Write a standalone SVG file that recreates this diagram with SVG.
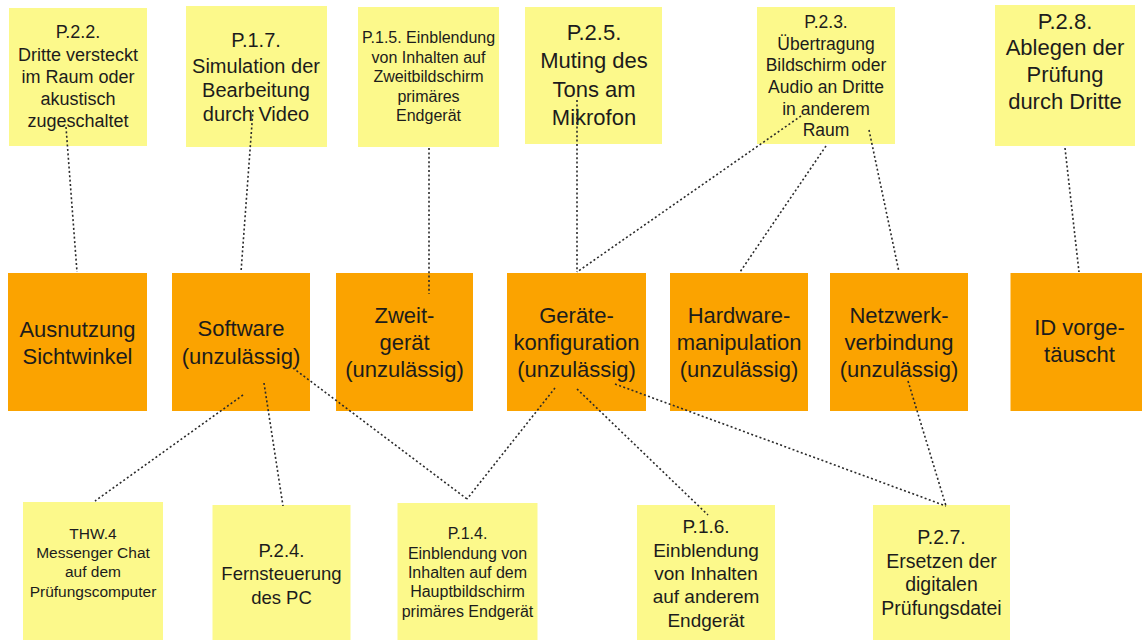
<svg xmlns="http://www.w3.org/2000/svg" width="1142" height="640" viewBox="0 0 1142 640">
<style>
.y{fill:#FCF98B}
.o{fill:#FBA300}
text{font-family:"Liberation Sans",Arial,sans-serif;fill:#1c1c1c;text-anchor:middle}
#connectors line{stroke:#2a2a2a;stroke-width:1.6;stroke-dasharray:2 2.4;fill:none}
</style>
<rect width="1142" height="640" fill="#ffffff"/>

<g id="p22"><rect class="y" x="9" y="8" width="138" height="138"/>
<text font-size="18"><tspan x="78" y="38">P.2.2.</tspan><tspan x="78" y="61">Dritte versteckt</tspan><tspan x="78" y="83">im Raum oder</tspan><tspan x="78" y="105">akustisch</tspan><tspan x="78" y="127">zugeschaltet</tspan></text></g>

<g id="p17"><rect class="y" x="186" y="6" width="141" height="141"/>
<text font-size="20"><tspan x="256" y="47">P.1.7.</tspan><tspan x="256" y="73">Simulation der</tspan><tspan x="256" y="97">Bearbeitung</tspan><tspan x="256" y="121">durch Video</tspan></text></g>

<g id="p15"><rect class="y" x="358" y="7" width="141" height="140"/>
<text font-size="16"><tspan x="428.5" y="43">P.1.5. Einblendung</tspan><tspan x="428.5" y="62.5">von Inhalten auf</tspan><tspan x="428.5" y="82">Zweitbildschirm</tspan><tspan x="428.5" y="101.5">primäres</tspan><tspan x="428.5" y="121">Endgerät</tspan></text></g>

<g id="p25"><rect class="y" x="525" y="7" width="137" height="137"/>
<text font-size="22"><tspan x="594" y="40">P.2.5.</tspan><tspan x="594" y="68">Muting des</tspan><tspan x="594" y="96.5">Tons am</tspan><tspan x="594" y="124.5">Mikrofon</tspan></text></g>

<g id="p23"><rect class="y" x="757" y="7" width="138" height="137"/>
<text font-size="17.5"><tspan x="826" y="28">P.2.3.</tspan><tspan x="826" y="49.5">Übertragung</tspan><tspan x="826" y="71">Bildschirm oder</tspan><tspan x="826" y="93">Audio an Dritte</tspan><tspan x="826" y="114.5">in anderem</tspan><tspan x="826" y="136">Raum</tspan></text></g>

<g id="p28"><rect class="y" x="995" y="5" width="140" height="141"/>
<text font-size="22"><tspan x="1065" y="28.5">P.2.8.</tspan><tspan x="1065" y="55">Ablegen der</tspan><tspan x="1065" y="82">Prüfung</tspan><tspan x="1065" y="109">durch Dritte</tspan></text></g>

<g id="ausnutzung"><rect class="o" x="8" y="273" width="139" height="138"/>
<text font-size="22"><tspan x="77.5" y="336.5">Ausnutzung</tspan><tspan x="77.5" y="363.5">Sichtwinkel</tspan></text></g>

<g id="software"><rect class="o" x="172" y="273" width="138" height="138"/>
<text font-size="22"><tspan x="241" y="336">Software</tspan><tspan x="241" y="364">(unzulässig)</tspan></text></g>

<g id="zweitgeraet"><rect class="o" x="336" y="273" width="137" height="138"/>
<text font-size="22"><tspan x="404.5" y="322.5">Zweit-</tspan><tspan x="404.5" y="349.5">gerät</tspan><tspan x="404.5" y="376.5">(unzulässig)</tspan></text></g>

<g id="geraetekonfiguration"><rect class="o" x="507" y="273" width="139" height="138"/>
<text font-size="22"><tspan x="576.5" y="322.5">Geräte-</tspan><tspan x="576.5" y="349.5">konfiguration</tspan><tspan x="576.5" y="376.5">(unzulässig)</tspan></text></g>

<g id="hardware"><rect class="o" x="670" y="273" width="138" height="138"/>
<text font-size="22"><tspan x="739" y="322.5">Hardware-</tspan><tspan x="739" y="349.5">manipulation</tspan><tspan x="739" y="376.5">(unzulässig)</tspan></text></g>

<g id="netzwerk"><rect class="o" x="830" y="273" width="138" height="138"/>
<text font-size="22"><tspan x="899" y="322.5">Netzwerk-</tspan><tspan x="899" y="349.5">verbindung</tspan><tspan x="899" y="376.5">(unzulässig)</tspan></text></g>

<g id="id"><rect class="o" x="1010.5" y="273" width="140" height="138"/>
<text font-size="22"><tspan x="1079.5" y="335">ID vorge-</tspan><tspan x="1079.5" y="362">täuscht</tspan></text></g>

<g id="thw4"><rect class="y" x="23" y="502" width="140" height="140"/>
<text font-size="15.5"><tspan x="93" y="539">THW.4</tspan><tspan x="93" y="558">Messenger Chat</tspan><tspan x="93" y="577">auf dem</tspan><tspan x="93" y="596.5">Prüfungscomputer</tspan></text></g>

<g id="p24"><rect class="y" x="212.5" y="505" width="138" height="137"/>
<text font-size="18.5"><tspan x="281.5" y="556.5">P.2.4.</tspan><tspan x="281.5" y="580">Fernsteuerung</tspan><tspan x="281.5" y="603.5">des PC</tspan></text></g>

<g id="p14"><rect class="y" x="397.5" y="503" width="140" height="139"/>
<text font-size="16"><tspan x="467.5" y="539">P.1.4.</tspan><tspan x="467.5" y="558.5">Einblendung von</tspan><tspan x="467.5" y="578">Inhalten auf dem</tspan><tspan x="467.5" y="597">Hauptbildschirm</tspan><tspan x="467.5" y="616.5">primäres Endgerät</tspan></text></g>

<g id="p16"><rect class="y" x="637" y="505" width="138" height="137"/>
<text font-size="19"><tspan x="706" y="533">P.1.6.</tspan><tspan x="706" y="556.5">Einblendung</tspan><tspan x="706" y="580">von Inhalten</tspan><tspan x="706" y="603">auf anderem</tspan><tspan x="706" y="626.5">Endgerät</tspan></text></g>

<g id="p27"><rect class="y" x="873" y="505" width="137" height="137"/>
<text font-size="19.5"><tspan x="941.5" y="544">P.2.7.</tspan><tspan x="941.5" y="567.5">Ersetzen der</tspan><tspan x="941.5" y="591">digitalen</tspan><tspan x="941.5" y="615">Prüfungsdatei</tspan></text></g>

<g id="connectors">
<line x1="66" y1="127" x2="77" y2="272"/>
<line x1="253" y1="110" x2="241" y2="272"/>
<line x1="429" y1="148" x2="429" y2="294"/>
<line x1="577" y1="100" x2="577" y2="272"/>
<line x1="801" y1="116" x2="577" y2="272"/>
<line x1="826" y1="146" x2="740" y2="272"/>
<line x1="869" y1="130" x2="899" y2="272"/>
<line x1="1065" y1="148" x2="1079" y2="272"/>
<line x1="243" y1="395" x2="95" y2="501"/>
<line x1="264" y1="383" x2="283" y2="506"/>
<line x1="293" y1="368" x2="467" y2="499"/>
<line x1="555" y1="388" x2="467" y2="499"/>
<line x1="577" y1="389" x2="708" y2="515"/>
<line x1="615" y1="384" x2="946" y2="506"/>
<line x1="908" y1="381" x2="946" y2="506"/>
</g>
</svg>
